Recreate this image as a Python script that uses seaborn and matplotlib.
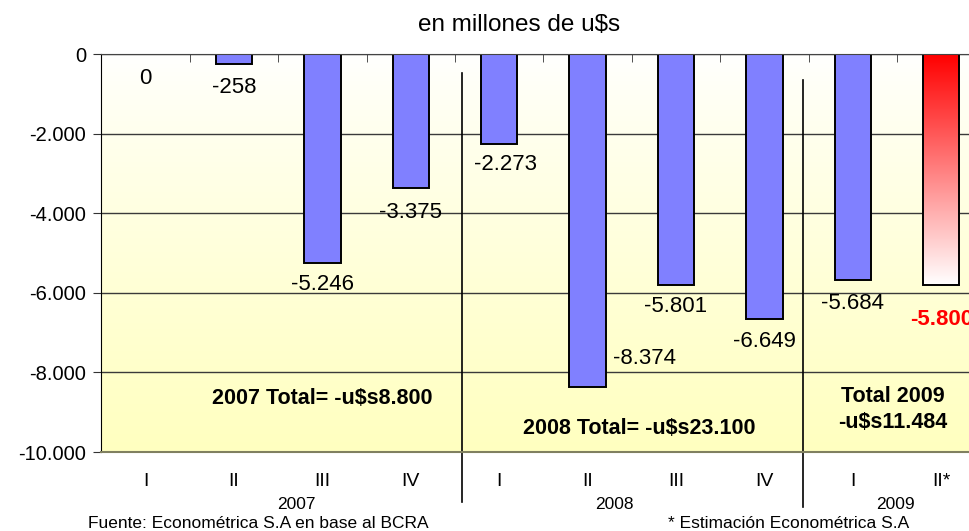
import numpy as np
import pandas as pd
import matplotlib
matplotlib.use("Agg")
import matplotlib.pyplot as plt
import matplotlib.transforms as mtransforms
from matplotlib.colors import LinearSegmentedColormap
import seaborn as sns

# datos (millones de u$s)
periodos = ["2007 I", "2007 II", "2007 III", "2007 IV",
            "2008 I", "2008 II", "2008 III", "2008 IV",
            "2009 I", "2009 II*"]
trimestres = ["I", "II", "III", "IV", "I", "II", "III", "IV", "I", "II*"]
valores = [0, -258, -5246, -3375, -2273, -8374, -5801, -6649, -5684, -5800]
anios = ["2007", "2008", "2009"]
totales = ["2007 Total= -u$s8.800", "2008 Total= -u$s23.100", "Total 2009\n-u$s11.484"]

plt.rcParams['font.family'] = ['Liberation Sans', 'DejaVu Sans']

df = pd.DataFrame({'periodo': periodos, 'valor': valores})
colores = ['#8080FF'] * 9 + ['white']

fig = plt.figure(figsize=(9.69, 5.31), dpi=100)
ax = fig.add_axes([101.4 / 969, 1 - 452 / 531, 884 / 969, 398 / 531])

# fondo degradado blanco -> amarillo
grad = np.linspace(0, 1, 256).reshape(-1, 1) ** 0.8
fondo = LinearSegmentedColormap.from_list('fondo', ['#FFFFFF', '#FFFFC0'])
ax.imshow(grad, cmap=fondo, extent=[0, 1, 0, 1], transform=ax.transAxes,
          aspect='auto', zorder=-2, origin='upper')

sns.barplot(data=df, x='periodo', y='valor', hue='periodo', palette=colores,
            dodge=False, legend=False, width=0.41, edgecolor='black',
            linewidth=1.4, saturation=1, ax=ax, zorder=2)

# ultima barra con degradado rojo -> blanco
p = ax.patches[-1]
x0, y0 = p.get_x(), p.get_y()
w, h = p.get_width(), p.get_height()
rojo = LinearSegmentedColormap.from_list('rojo', ['#FF0000', '#FFFFFF'])
im = ax.imshow(np.linspace(0, 1, 256).reshape(-1, 1), cmap=rojo,
               extent=[x0, x0 + w, y0 + h, y0], aspect='auto', zorder=1.9,
               origin='upper')
im.set_clip_path(p)
p.set_facecolor('none')

ax.set_xlim(-0.5, 9.5)
ax.set_ylim(-10000, 0)

# ejes
ax.set_yticks(np.arange(-10000, 1, 2000))
ax.set_yticklabels([f"{v:,}".replace(',', '.') for v in np.arange(-10000, 1, 2000)])
ax.yaxis.grid(True, color='#3a3a3a', linewidth=1)
ax.set_axisbelow(True)
ax.tick_params(axis='y', direction='out', length=6, labelsize=14.5, pad=5, color='#333333')

ax.set_xticks(range(10))
ax.set_xticklabels(trimestres)
ax.set_xticks(np.arange(-0.5, 10, 1), minor=True)
ax.tick_params(axis='x', which='major', length=0, labelsize=14, pad=15)
ax.tick_params(axis='x', which='minor', bottom=False, top=True, direction='in',
               length=6, color='#333333')
ax.set_xlabel('')
ax.set_ylabel('')

ax.spines['left'].set_color('black')
ax.spines['top'].set_color('#444444')
ax.spines['bottom'].set_color('#808060')
ax.spines['bottom'].set_linewidth(1.5)
ax.spines['right'].set_visible(False)

# etiquetas de valores
desplaz = [(0, -25), (0, -23), (0, -22), (0, -24), (6, -20),
           (57, 29), (0, -22), (0, -23), (0, -23), (0, -35)]
for i, (v, (dx, dy)) in enumerate(zip(valores, desplaz)):
    txt = f"{v:,}".replace(',', '.')
    if i == len(valores) - 1:
        ax.annotate(txt, (i, v), xytext=(dx, dy), textcoords='offset pixels',
                    ha='center', va='center', fontsize=16, color='#FF0000',
                    fontweight='bold', annotation_clip=False)
    else:
        ax.annotate(txt, (i, v), xytext=(dx, dy), textcoords='offset pixels',
                    ha='center', va='center', fontsize=16, color='black')

# totales por anio
ax.text(2.0, -8668, totales[0], ha='center', va='center', fontsize=15.5, fontweight='bold')
ax.text(5.58, -9397, totales[1], ha='center', va='center', fontsize=15.5, fontweight='bold')
ax.text(8.455, -8932, totales[2], ha='center', va='center', fontsize=15.5,
        fontweight='bold', linespacing=1.3)

# separadores de anios
ax.axvline(3.58, ymin=-0.126, ymax=0.952, color='black', linewidth=1.2, clip_on=False)
ax.axvline(7.44, ymin=-0.138, ymax=0.935, color='black', linewidth=1.2, clip_on=False)

# anios bajo los trimestres
trans = mtransforms.blended_transform_factory(ax.transData, fig.transFigure)
for xa, anio in zip([1.71, 5.30, 8.48], anios):
    ax.text(xa, 1 - 509 / 531, anio, transform=trans, ha='center', va='baseline', fontsize=12.5)

fig.text(0.5356, 1 - 25 / 531, 'en millones de u$s', ha='center', va='center', fontsize=17.5)
fig.text(88 / 969, 1 - 528.5 / 531, 'Fuente: Econométrica S.A en base al BCRA',
         ha='left', va='baseline', fontsize=12.5)
fig.text(668 / 969, 1 - 528.5 / 531, '* Estimación Econométrica S.A',
         ha='left', va='baseline', fontsize=12.5)

fig.savefig('out.png', dpi=100)
